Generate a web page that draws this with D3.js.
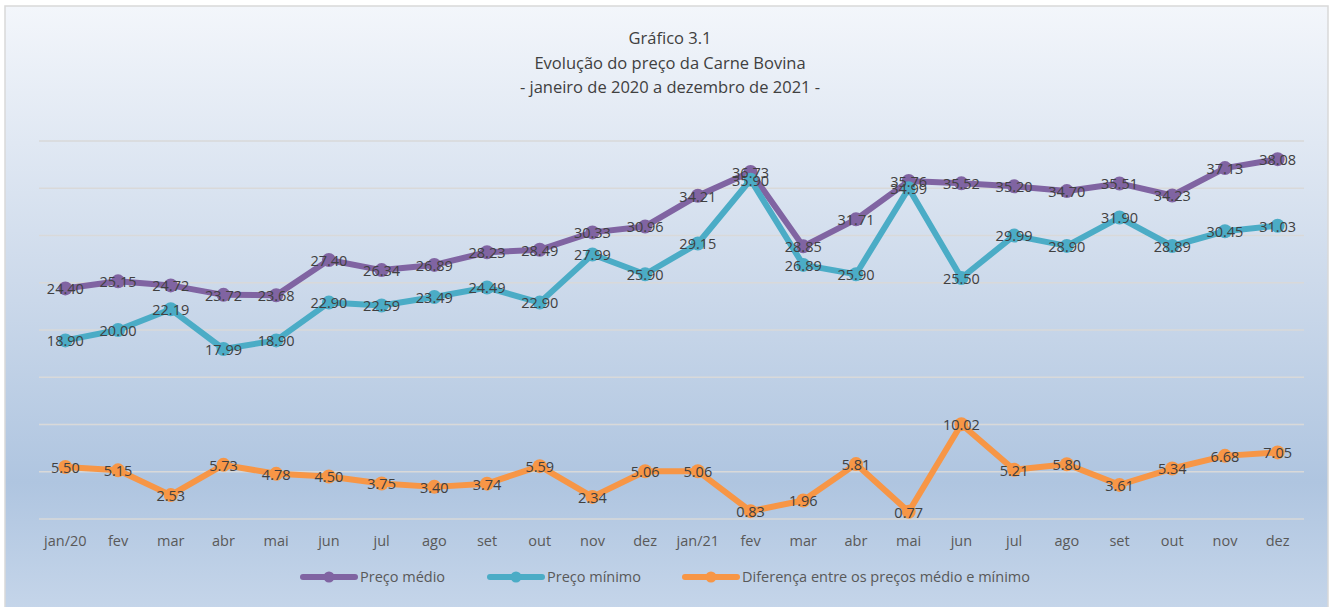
<!DOCTYPE html>
<html>
<head>
<meta charset="utf-8">
<script src="https://cdn.jsdelivr.net/npm/d3@7"></script>
<style>
  body { margin: 0; background: #fff; }
  svg text { font-family: "Open Sans", "Noto Sans", sans-serif; }
</style>
</head>
<body>
<svg id="chart" width="1333" height="607"></svg>
<script>
// dados do gráfico
const months = ["jan/20","fev","mar","abr","mai","jun","jul","ago","set","out","nov","dez",
                "jan/21","fev","mar","abr","mai","jun","jul","ago","set","out","nov","dez"];
const precoMedio = [24.40,25.15,24.72,23.72,23.68,27.40,26.34,26.89,28.23,28.49,30.33,30.96,
                    34.21,36.73,28.85,31.71,35.76,35.52,35.20,34.70,35.51,34.23,37.13,38.08];
const precoMinimo = [18.90,20.00,22.19,17.99,18.90,22.90,22.59,23.49,24.49,22.90,27.99,25.90,
                     29.15,35.90,26.89,25.90,34.99,25.50,29.99,28.90,31.90,28.89,30.45,31.03];
const diferenca = [5.50,5.15,2.53,5.73,4.78,4.50,3.75,3.40,3.74,5.59,2.34,5.06,
                   5.06,0.83,1.96,5.81,0.77,10.02,5.21,5.80,3.61,5.34,6.68,7.05];
const yTicks = [0,5,10,15,20,25,30,35,40];
const titleLines = ["Gráfico 3.1", "Evolução do preço da Carne Bovina", "- janeiro de 2020 a dezembro de 2021 -"];

const series = [
    { name: "Preço médio", values: precoMedio, color: "#8064a2" },
    { name: "Preço mínimo", values: precoMinimo, color: "#4bacc6" },
    { name: "Diferença entre os preços médio e mínimo", values: diferenca, color: "#f79646" }
];

const CONFIG = {
    left: 39, right: 1304, top: 141, bottom: 519,
    lineWidth: 6, markerR: 7
};

const svg = d3.select("#chart");

// fundo com gradiente
const defs = svg.append("defs");
const grad = defs.append("linearGradient")
    .attr("id", "bg").attr("x1", 0).attr("y1", 0).attr("x2", 0).attr("y2", 1);
grad.append("stop").attr("offset", "0%").attr("stop-color", "#f3f6fb");
grad.append("stop").attr("offset", "45%").attr("stop-color", "#cddaeb");
grad.append("stop").attr("offset", "78%").attr("stop-color", "#afc5e0");
grad.append("stop").attr("offset", "100%").attr("stop-color", "#c6d6ea");

svg.append("rect")
    .attr("x", 5).attr("y", 6)
    .attr("width", 1323).attr("height", 610)
    .attr("fill", "url(#bg)")
    .attr("stroke", "#d9d9d9")
    .attr("stroke-width", 1.5);

// título
svg.append("g")
    .selectAll("text")
    .data(titleLines)
    .join("text")
    .attr("x", 670)
    .attr("y", (d, i) => 44 + i * 24.5)
    .attr("text-anchor", "middle")
    .attr("font-size", 16.5)
    .attr("fill", "#404040")
    .text(d => d);

// escalas
const x = d3.scaleBand()
    .domain(d3.range(months.length))
    .range([CONFIG.left, CONFIG.right]);
const cx = i => x(i) + x.bandwidth() / 2;

const y = d3.scaleLinear()
    .domain([0, 40])
    .range([CONFIG.bottom, CONFIG.top]);

// linhas de grade
svg.append("g")
    .selectAll("line")
    .data(yTicks)
    .join("line")
    .attr("x1", CONFIG.left)
    .attr("x2", CONFIG.right)
    .attr("y1", d => y(d))
    .attr("y2", d => y(d))
    .attr("stroke", "#d9d9d9")
    .attr("stroke-width", 1.5);

// eixo x
const xAxis = svg.append("g")
    .attr("transform", `translate(0, ${CONFIG.bottom})`)
    .call(d3.axisBottom(x).tickSize(0).tickPadding(17).tickFormat(i => months[i]));
xAxis.select(".domain").remove();
xAxis.selectAll("text")
    .attr("font-size", 14.5)
    .attr("fill", "#595959")
    .style("font-family", "'Open Sans', 'Noto Sans', sans-serif");

// séries
const line = d3.line()
    .x((d, i) => cx(i))
    .y(d => y(d));

series.forEach(s => {
    const g = svg.append("g");
    g.append("path")
        .attr("d", line(s.values))
        .attr("fill", "none")
        .attr("stroke", s.color)
        .attr("stroke-width", CONFIG.lineWidth)
        .attr("stroke-linejoin", "round")
        .attr("stroke-linecap", "round");
    g.selectAll("circle")
        .data(s.values)
        .join("circle")
        .attr("cx", (d, i) => cx(i))
        .attr("cy", d => y(d))
        .attr("r", CONFIG.markerR)
        .attr("fill", s.color);
});

// rótulos de dados (centrados no ponto, como no original)
series.forEach(s => {
    svg.append("g")
        .selectAll("text")
        .data(s.values)
        .join("text")
        .attr("x", (d, i) => cx(i))
        .attr("y", d => y(d) + 2)
        .attr("text-anchor", "middle")
        .attr("dominant-baseline", "middle")
        .attr("font-size", 14.5)
        .attr("fill", "#404040")
        .text(d => d.toFixed(2));
});

// legenda
const legendX = [301, 488, 683];
const legend = svg.append("g").attr("transform", "translate(0, 577)");
series.forEach((s, i) => {
    const item = legend.append("g").attr("transform", `translate(${legendX[i]}, 0)`);
    item.append("line")
        .attr("x1", 2).attr("x2", 54)
        .attr("stroke", s.color)
        .attr("stroke-width", CONFIG.lineWidth)
        .attr("stroke-linecap", "round");
    item.append("circle")
        .attr("cx", 28).attr("r", 5.5)
        .attr("fill", s.color);
    item.append("text")
        .attr("x", 59)
        .attr("dominant-baseline", "middle")
        .attr("y", 1)
        .attr("font-size", 14.5)
        .attr("fill", "#595959")
        .text(s.name);
});
</script>
</body>
</html>
